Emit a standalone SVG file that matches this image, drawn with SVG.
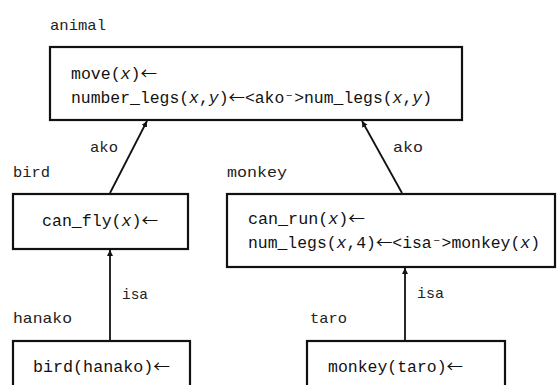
<svg xmlns="http://www.w3.org/2000/svg" width="558" height="385" viewBox="0 0 558 385">
<style>
.box{fill:#fff;stroke:#111;stroke-width:2.2}
.t{font-family:"Liberation Mono","DejaVu Sans Mono",monospace;font-size:16px;fill:#111}
.lbl{font-family:"Liberation Mono","DejaVu Sans Mono",monospace;font-size:15px;fill:#222}
.i{font-style:italic}
.ar{font-family:"Noto Sans CJK JP","Noto Sans CJK SC",sans-serif}
.ed{stroke:#111;stroke-width:1.8;fill:none;marker-end:url(#ah)}
</style>
<defs>
<marker id="ah" viewBox="0 0 10 10" refX="10" refY="5" markerWidth="6" markerHeight="7" markerUnits="userSpaceOnUse" orient="auto">
<path d="M0,0 L10,5 L0,10 z" fill="#111"/>
</marker>
</defs>
<rect width="558" height="385" fill="#fff"/>
<g id="connectors">
<line class="ed" x1="110" y1="193" x2="147" y2="121"/>
<text class="lbl" x="90" y="152" textLength="28" lengthAdjust="spacingAndGlyphs">ako</text>
<line class="ed" x1="402" y1="193" x2="362" y2="121"/>
<text class="lbl" x="393" y="152" textLength="30" lengthAdjust="spacingAndGlyphs">ako</text>
<line class="ed" x1="110" y1="340" x2="110" y2="250"/>
<text class="lbl" x="122" y="299" textLength="26" lengthAdjust="spacingAndGlyphs">isa</text>
<line class="ed" x1="405" y1="340" x2="405" y2="268"/>
<text class="lbl" x="417" y="298" textLength="27" lengthAdjust="spacingAndGlyphs">isa</text>
</g>
<g id="animal">
<text class="lbl" x="50" y="30" textLength="56" lengthAdjust="spacingAndGlyphs">animal</text>
<rect class="box" x="50" y="47" width="412" height="73"/>
<text class="t" x="71" y="79" textLength="86" lengthAdjust="spacingAndGlyphs">move(<tspan class="i">x</tspan>)<tspan class="ar">←</tspan></text>
<text class="t" x="71" y="103" textLength="361" lengthAdjust="spacingAndGlyphs">number_legs(<tspan class="i">x</tspan>,<tspan class="i">y</tspan>)<tspan class="ar">←</tspan>&lt;ako⁻&gt;num_legs(<tspan class="i">x</tspan>,<tspan class="i">y</tspan>)</text>
</g>
<g id="bird">
<text class="lbl" x="13" y="177" textLength="37" lengthAdjust="spacingAndGlyphs">bird</text>
<rect class="box" x="13" y="194" width="175" height="55"/>
<text class="t" x="42" y="226" textLength="116" lengthAdjust="spacingAndGlyphs">can_fly(<tspan class="i">x</tspan>)<tspan class="ar">←</tspan></text>
</g>
<g id="monkey">
<text class="lbl" x="227" y="177" textLength="60" lengthAdjust="spacingAndGlyphs">monkey</text>
<rect class="box" x="227" y="194" width="328" height="73"/>
<text class="t" x="248" y="224" textLength="117" lengthAdjust="spacingAndGlyphs">can_run(<tspan class="i">x</tspan>)<tspan class="ar">←</tspan></text>
<text class="t" x="248" y="248" textLength="292" lengthAdjust="spacingAndGlyphs">num_legs(<tspan class="i">x</tspan>,4)<tspan class="ar">←</tspan>&lt;isa⁻&gt;monkey(<tspan class="i">x</tspan>)</text>
</g>
<g id="hanako">
<text class="lbl" x="13" y="323" textLength="59" lengthAdjust="spacingAndGlyphs">hanako</text>
<rect class="box" x="13" y="341" width="177" height="60"/>
<text class="t" x="33" y="372" textLength="137" lengthAdjust="spacingAndGlyphs">bird(hanako)<tspan class="ar">←</tspan></text>
</g>
<g id="taro">
<text class="lbl" x="310" y="323" textLength="37" lengthAdjust="spacingAndGlyphs">taro</text>
<rect class="box" x="307" y="341" width="198" height="60"/>
<text class="t" x="328" y="372" textLength="135" lengthAdjust="spacingAndGlyphs">monkey(taro)<tspan class="ar">←</tspan></text>
</g>
</svg>
